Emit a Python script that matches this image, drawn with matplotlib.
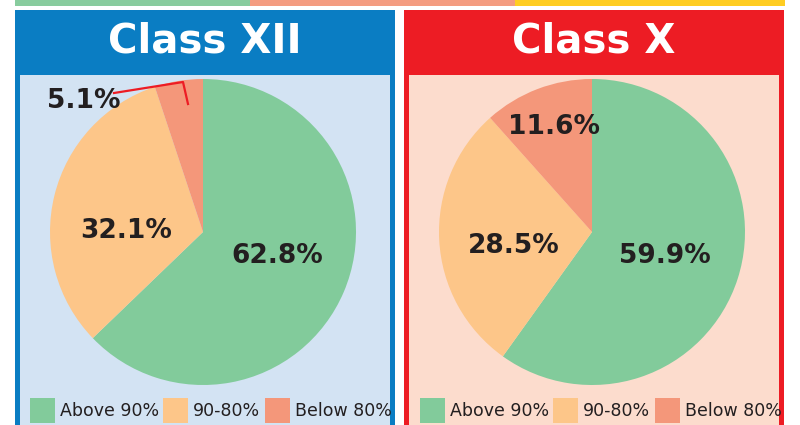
import matplotlib
matplotlib.use('Agg')
import matplotlib.pyplot as plt
from matplotlib.patches import Rectangle
from matplotlib.lines import Line2D

# data
categories = ['Above 90%', '90-80%', 'Below 80%']
class_xii = [62.8, 32.1, 5.1]
class_x = [59.9, 28.5, 11.6]
colors = ['#82cb9b', '#fdc689', '#f4977a']

FONT = 'DejaVu Sans'

W, H = 800, 425
fig = plt.figure(figsize=(8, 4.25), dpi=100)
fig.patch.set_facecolor('white')

# background axes in pixel coordinates (y from top)
bg = fig.add_axes([0, 0, 1, 1])
bg.set_xlim(0, W)
bg.set_ylim(H, 0)
bg.axis('off')

# top colour strips
bg.add_patch(Rectangle((15, 0), 235, 6, color='#88cc9e', lw=0))
bg.add_patch(Rectangle((250, 0), 265, 6, color='#f49c80', lw=0))
bg.add_patch(Rectangle((515, 0), 270, 6, color='#ffcd22', lw=0))

panels = [
    (15, 395, '#0a7dc3', '#d3e3f3', 'Class XII'),
    (404, 784, '#ed1c24', '#fcdccd', 'Class X'),
]
for x0, x1, edge, fill, title in panels:
    bg.add_patch(Rectangle((x0, 10), x1 - x0, H - 10, color=edge, lw=0))
    bg.add_patch(Rectangle((x0 + 5, 75), x1 - x0 - 10, H - 75, color=fill, lw=0))
    bg.text((x0 + x1) / 2, 41, title, color='white', fontsize=29, fontweight='bold',
            ha='center', va='center', family=FONT)


def draw_pie(cx, cy, r, values):
    ax = fig.add_axes([(cx - r) / W, (H - cy - r) / H, 2 * r / W, 2 * r / H])
    ax.pie(values, colors=colors, startangle=90, counterclock=False,
           wedgeprops=dict(linewidth=0))
    ax.set_xlim(-1, 1)
    ax.set_ylim(-1, 1)
    ax.set_aspect('equal')
    ax.axis('off')


draw_pie(203, 232, 153, class_xii)
draw_pie(592, 232, 153, class_x)

# overlay for labels on top of pies
top = fig.add_axes([0, 0, 1, 1])
top.set_xlim(0, W)
top.set_ylim(H, 0)
top.axis('off')
top.patch.set_alpha(0)

label_pos = [
    (class_xii, [(277, 256), (126, 231), (84, 101)]),
    (class_x, [(665, 256), (514, 246), (554, 127)]),
]
for values, pos in label_pos:
    for v, (lx, ly) in zip(values, pos):
        top.text(lx, ly, f'{v}%', fontsize=19, fontweight='bold',
                 color='#231f20', ha='center', va='center', family=FONT)

# red pointer line for the small slice
top.add_line(Line2D([114, 183, 188], [93, 82, 104], color='#ed1c24', lw=1.6))

# legends
for xs in ([30, 163, 265], [420, 553, 655]):
    for x, c, lab in zip(xs, colors, categories):
        top.add_patch(Rectangle((x, 398), 25, 25, color=c, lw=0))
        top.text(x + 30, 411, lab, fontsize=12.5, color='#231f20',
                 ha='left', va='center', family=FONT)

fig.savefig('out.png', dpi=100)
